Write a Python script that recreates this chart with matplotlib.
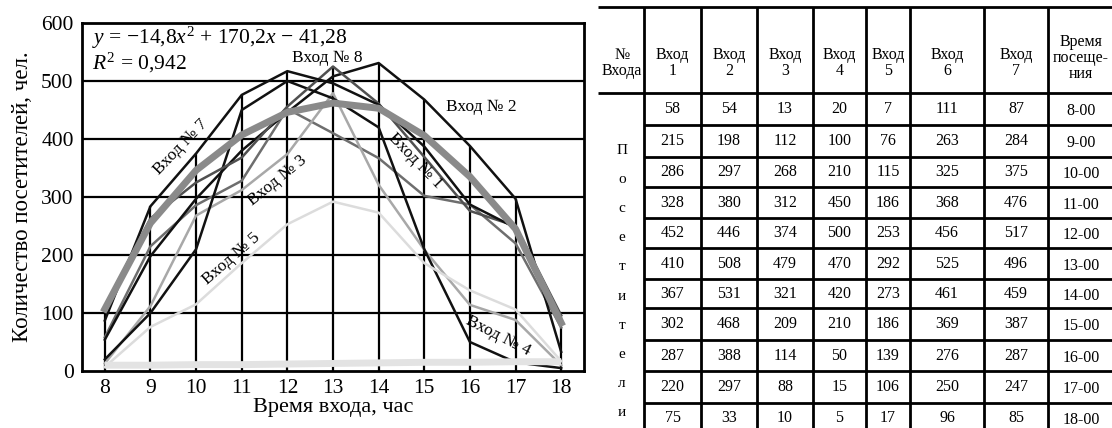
import numpy as np
import matplotlib
matplotlib.use('Agg')
import matplotlib.pyplot as plt

plt.rcParams['font.family'] = ['Liberation Serif', 'DejaVu Serif']
plt.rcParams['mathtext.fontset'] = 'custom'
plt.rcParams['mathtext.rm'] = 'Liberation Serif'
plt.rcParams['mathtext.it'] = 'Liberation Serif:italic'

# Данные: посетители по входам
hours = [8, 9, 10, 11, 12, 13, 14, 15, 16, 17, 18]
vhod_1 = [58, 215, 286, 328, 452, 410, 367, 302, 287, 220, 75]
vhod_2 = [54, 198, 297, 380, 446, 508, 531, 468, 388, 297, 33]
vhod_3 = [13, 112, 268, 312, 374, 479, 321, 209, 114, 88, 10]
vhod_4 = [20, 100, 210, 450, 500, 470, 420, 210, 50, 15, 5]
vhod_5 = [7, 76, 115, 186, 253, 292, 273, 186, 139, 106, 17]
vhod_6 = [111, 263, 325, 368, 456, 525, 461, 369, 276, 250, 96]
vhod_7 = [87, 284, 375, 476, 517, 496, 459, 387, 287, 247, 85]
# линия тренда и нижняя линия
trend = [107, 255, 346, 407, 446, 462, 453, 406, 335, 245, 83]
bottom_line = [10, 10, 11, 11, 12, 13, 14, 15, 15, 16, 16]

time_labels = ['8-00', '9-00', '10-00', '11-00', '12-00', '13-00',
               '14-00', '15-00', '16-00', '17-00', '18-00']
header = ['№\nВхода', 'Вход\n1', 'Вход\n2', 'Вход\n3', 'Вход\n4',
          'Вход\n5', 'Вход\n6', 'Вход\n7', 'Время\nпосеще-\nния']
side_word = 'Посетители'

series = [vhod_1, vhod_2, vhod_3, vhod_4, vhod_5, vhod_6, vhod_7]
colors = ['#6e6e6e', '#111111', '#a8a8a8', '#111111', '#dcdcdc', '#505050', '#111111']

fig = plt.figure(figsize=(11.12, 4.28), dpi=100)
ax = fig.add_axes([82 / 1112, 1 - 371 / 428, 502 / 1112, 348 / 428])

# вертикальные линии сетки до максимума по входам
tops = np.max(np.array(series), axis=0)
ax.vlines(hours, 0, tops, color='black', lw=1.6, zorder=1)
ax.hlines([100, 200, 300, 400, 500], 7.5, 18.5, color='black', lw=1.6, zorder=1)

for vals, c in zip(series, colors):
    ax.plot(hours, vals, color=c, lw=1.8, zorder=2)
ax.plot(hours, bottom_line, color='#e3e3e3', lw=5, zorder=2, solid_capstyle='butt')
ax.plot(hours, trend, color='#8a8a8a', lw=5, zorder=3)

ax.set_xlim(7.5, 18.5)
ax.set_ylim(0, 600)
ax.set_xticks(hours)
ax.set_yticks([0, 100, 200, 300, 400, 500, 600])
ax.tick_params(length=0, labelsize=15.5, pad=6)
for s in ax.spines.values():
    s.set_linewidth(2)
ax.set_xlabel('Время входа, час', fontsize=16, labelpad=0)
ax.set_ylabel('Количество посетителей, чел.', fontsize=16.5, labelpad=6)

ax.text(0.02, 0.957, r'$y$ = −14,8$x^2$ + 170,2$x$ − 41,28', transform=ax.transAxes,
        fontsize=15.5, va='center', ha='left')
ax.text(0.02, 0.885, r'$R^2$ = 0,942', transform=ax.transAxes,
        fontsize=15.5, va='center', ha='left')

labels = [('Вход № 7', 9.66, 386, 46), ('Вход № 3', 11.78, 329, 39),
          ('Вход № 5', 10.77, 194, 41), ('Вход № 8', 12.87, 540, 0),
          ('Вход № 2', 16.25, 455, 0), ('Вход № 1', 14.81, 362, -46),
          ('Вход № 4', 16.62, 60, -27)]
for txt, x, y, rot in labels:
    ax.text(x, y, txt, fontsize=12.5, rotation=rot, rotation_mode='anchor',
            ha='center', va='center', zorder=4)

# Таблица справа (в пикселях)
tx = fig.add_axes([0, 0, 1, 1])
tx.set_xlim(0, 1112)
tx.set_ylim(428, 0)
tx.axis('off')
col_x = [600, 644, 701, 757, 813, 866, 910, 984, 1048, 1114]
row_y = [7, 93, 125, 157, 187, 218, 248, 279, 308, 340, 371, 403, 434]
lw = 2
tx.hlines([row_y[0], row_y[1]], 598, 1114, color='black', lw=lw)
tx.hlines(row_y[2:], col_x[1], 1114, color='black', lw=lw)
tx.vlines(col_x[1:-1], row_y[0], 430, color='black', lw=lw)

for j, h in enumerate(header):
    cx = (col_x[j] + col_x[j + 1]) / 2
    cy = 58 if j == len(header) - 1 else 63
    tx.text(cx, cy, h, ha='center', va='center', fontsize=11.5, linespacing=1.0)

for i in range(len(hours)):
    cy = (row_y[i + 1] + row_y[i + 2]) / 2
    for j, vals in enumerate(series):
        cx = (col_x[j + 1] + col_x[j + 2]) / 2
        tx.text(cx, cy, str(vals[i]), ha='center', va='center', fontsize=11.5)
    cx = (col_x[-2] + col_x[-1]) / 2
    tx.text(cx, cy + 2, time_labels[i], ha='center', va='center', fontsize=11.5)

for k, ch in enumerate(side_word):
    tx.text(622, 150 + k * 29.2, ch.lower() if k else ch, ha='center', va='center', fontsize=11)

fig.savefig('out.png', dpi=100)
